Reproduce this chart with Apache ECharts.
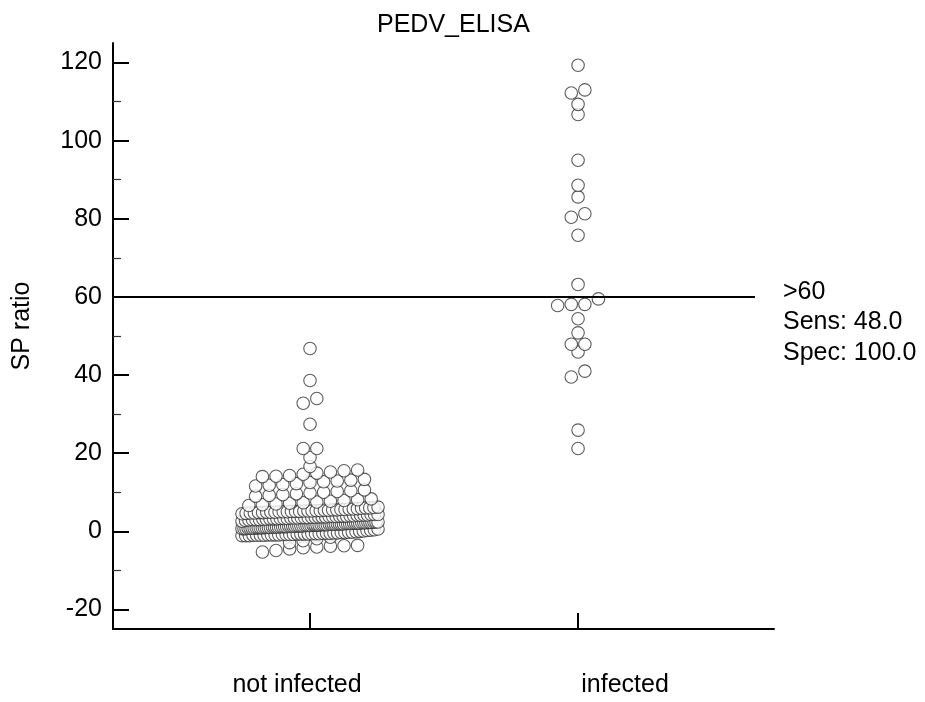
<!DOCTYPE html>
<html>
<head>
<meta charset="utf-8">
<script src="https://cdn.jsdelivr.net/npm/echarts@6/dist/echarts.min.js"></script>
<style>html,body{margin:0;padding:0;background:#fff}#c{width:925px;height:702px}</style>
</head>
<body>
<div id="c"></div>
<script>
// ---- data ----
const chartTitle = 'PEDV_ELISA';
const yAxisName = 'SP ratio';
const categories = ['not infected', 'infected'];
const notInfected = [
  -5.3, -4.9, -4.5, -4.2, -4.0, -3.8, -3.7, -3.6,
  -2.9, -2.4, -1.9, -1.5,
  -1.1, -1.1, -1.1, -1.0, -1.0, -1.0, -1.0, -0.9, -0.9, -0.9, -0.9, -0.8, -0.8, -0.8, -0.8, -0.7, -0.7,
  -0.7, -0.7, -0.6, -0.6, -0.6, -0.5, -0.5, -0.5, -0.4, -0.4, -0.3, -0.3, -0.2, -0.2, -0.1, 0.0, 0.1,
  0.2, 0.3, 0.4, 0.6,
  0.7, 0.7, 0.7, 0.8, 0.8, 0.8, 0.8, 0.9, 0.9, 0.9, 0.9, 1.0, 1.0, 1.0, 1.0, 1.1, 1.1, 1.1, 1.1, 1.2,
  1.2, 1.2, 1.2, 1.3, 1.3, 1.3, 1.3, 1.4, 1.4, 1.4, 1.4, 1.5, 1.5, 1.5, 1.5, 1.6, 1.6, 1.6, 1.6, 1.7,
  1.7, 1.7, 1.7, 1.8, 1.8, 1.8, 1.8, 1.9, 1.9, 1.9, 1.9, 2.0, 2.0, 2.0, 2.0, 2.1, 2.1, 2.1, 2.1, 2.2,
  2.2, 2.2, 2.3, 2.3, 2.3, 2.4, 2.4, 2.4,
  2.6, 2.8, 2.9, 3.0, 3.0, 3.0, 3.1, 3.1, 3.2, 3.2, 3.2, 3.3, 3.3, 3.3, 3.4, 3.4, 3.4, 3.5, 3.5, 3.5,
  3.6, 3.6, 3.7, 3.7, 3.7, 3.8, 3.8, 3.8, 3.9, 3.9, 3.9, 4.0, 4.0, 4.1, 4.1, 4.2, 4.2, 4.3, 4.3, 4.3,
  4.5, 4.6, 4.7, 4.7, 4.8, 4.8, 4.9, 4.9, 4.9, 5.0, 5.0, 5.0, 5.1, 5.1, 5.1, 5.2, 5.2, 5.2, 5.3, 5.3,
  5.4, 5.4, 5.5, 5.5, 5.6, 5.6, 5.7, 5.7, 5.8, 5.9, 6.0, 6.0, 6.1, 6.2,
  6.6, 6.8, 7.0, 7.2, 7.3, 7.5, 7.7, 7.9, 8.1, 8.3,
  9.0, 9.2, 9.4, 9.6, 9.8, 10.0, 10.2, 10.4, 10.6,
  11.6, 11.8, 12.0, 12.2, 12.5, 12.7, 12.9, 13.1, 13.3,
  14.0, 14.1, 14.3, 14.6, 14.9, 15.2, 15.5, 15.7,
  16.6, 18.9, 21.2, 21.2, 27.4, 32.8, 34.0, 38.6, 46.8
];
const infected = [
  119.3, 113.0, 112.2, 109.3, 106.7, 95.0, 88.6, 85.6, 81.3, 80.4, 75.8, 63.2,
  59.5, 58.1, 58.1, 57.8, 54.4, 50.8, 47.9, 47.9, 45.9, 41.0, 39.5, 25.9, 21.2
];
const cutoff = 60;
const yTickValues = [-20, 0, 20, 40, 60, 80, 100, 120];
const yMinorTickValues = [-10, 10, 30, 50, 70, 90, 110];

// ---- layout settings ----
const FONT = "'Liberation Sans', Arial, sans-serif";
const X_MIN = 0.265, X_MAX = 2.731;           // category positions are 1 and 2
const PX_PER_X = 268;                          // approx pixels per x unit
const DOT_STEP = 13.6 / PX_PER_X;              // side-by-side spacing
const MAX_WIDTH = 136 / PX_PER_X;              // max spread of a row
const GROUP_SPAN = 1.8;                        // values closer than this share a row

function swarm(values, center) {
  const sorted = values.slice().sort((a, b) => a - b);
  const groups = [];
  let g = null;
  sorted.forEach(v => {
    if (!g || v >= g.start + GROUP_SPAN - 1e-9) { g = { start: v, vals: [] }; groups.push(g); }
    g.vals.push(v);
  });
  const pts = [];
  groups.forEach(gr => {
    const n = gr.vals.length;
    const step = n > 1 ? Math.min(DOT_STEP, MAX_WIDTH / (n - 1)) : 0;
    gr.vals.forEach((v, i) => pts.push([center + (i - (n - 1) / 2) * step, v]));
  });
  return pts;
}

const sens = infected.filter(v => v > cutoff).length / infected.length * 100;
const spec = notInfected.filter(v => v <= cutoff).length / notInfected.length * 100;

const chart = echarts.init(document.getElementById('c'), null, { renderer: 'canvas' });
const symbolStyle = { color: '#ffffff', borderColor: '#333333', borderWidth: 1.1 };

chart.setOption({
  animation: false,
  backgroundColor: '#ffffff',
  title: {
    text: chartTitle, left: 372, top: 8,
    textStyle: { fontFamily: FONT, fontSize: 25, fontWeight: 'normal', color: '#000' }
  },
  grid: { left: 113, right: 151, top: 43, bottom: 73 },
  xAxis: {
    type: 'value', min: X_MIN, max: X_MAX,
    splitLine: { show: false },
    axisLine: { show: true, onZero: false, lineStyle: { color: '#000', width: 2 } },
    axisTick: { show: true, inside: true, length: 16, customValues: [1, 2], lineStyle: { color: '#000', width: 2 } },
    axisLabel: {
      show: true, customValues: [1, 2], margin: 44,
      fontFamily: FONT, fontSize: 25, color: '#000',
      formatter: v => (Math.round(v) === 1 ? '{a|' : '{b|') + categories[Math.round(v) - 1] + '}',
      rich: {
        a: { fontFamily: FONT, fontSize: 25, color: '#000', padding: [0, 26, 0, 0] },
        b: { fontFamily: FONT, fontSize: 25, color: '#000', padding: [0, 0, 0, 94] }
      }
    }
  },
  yAxis: [{
    type: 'value', min: -25, max: 125,
    name: yAxisName, nameLocation: 'middle', nameGap: 78,
    nameTextStyle: { fontFamily: FONT, fontSize: 25, color: '#000', padding: [0, 0, 0, 20] },
    splitLine: { show: false },
    axisLine: { show: true, onZero: false, lineStyle: { color: '#000', width: 2 } },
    axisTick: { show: true, inside: true, length: 16, customValues: yTickValues, lineStyle: { color: '#000', width: 2 } },
    axisLabel: { show: true, customValues: yTickValues, margin: 11, fontFamily: FONT, fontSize: 25, color: '#000' }
  }, {
    type: 'value', min: -25, max: 125, position: 'left',
    splitLine: { show: false },
    axisLine: { show: false },
    axisTick: { show: true, inside: true, length: 8, customValues: yMinorTickValues, lineStyle: { color: '#333', width: 1.2 } },
    axisLabel: { show: false }
  }],
  series: [{
    name: categories[0], type: 'scatter', symbol: 'circle', symbolSize: 12.5,
    itemStyle: symbolStyle, emphasis: { disabled: true }, silent: true,
    data: swarm(notInfected, 1)
  }, {
    name: categories[1], type: 'scatter', symbol: 'circle', symbolSize: 12.5,
    itemStyle: symbolStyle, emphasis: { disabled: true }, silent: true,
    data: swarm(infected, 2),
    markLine: {
      silent: true, symbol: 'none', animation: false,
      lineStyle: { color: '#000', width: 2, type: 'solid' },
      label: {
        show: true, position: 'end', distance: 28,
        formatter: () => '{t|>' + cutoff + '}\n{t|Sens: ' + sens.toFixed(1) + '}\n{t|Spec: ' + spec.toFixed(1) + '}',
        padding: [51, 0, 0, 0],
        rich: { t: { fontFamily: FONT, fontSize: 25, color: '#000', lineHeight: 30.5 } }
      },
      data: [[{ coord: [X_MIN, cutoff] }, { coord: [X_MAX - 19 / PX_PER_X, cutoff] }]]
    }
  }]
});
</script>
</body>
</html>
